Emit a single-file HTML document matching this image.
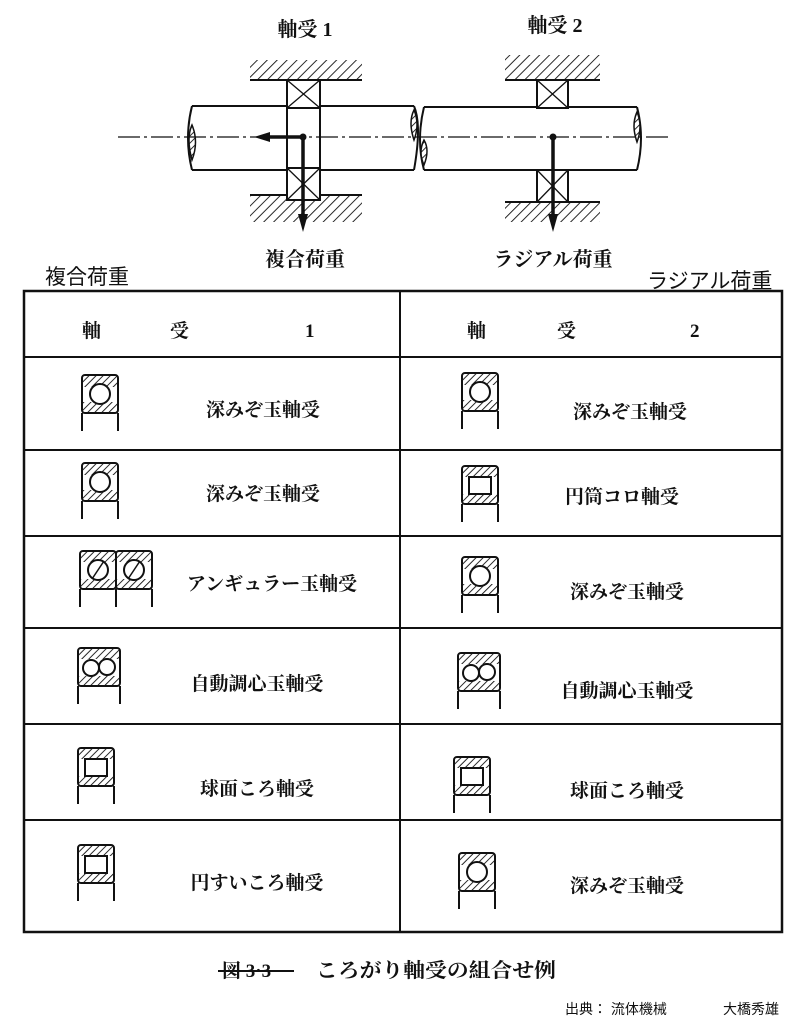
<!DOCTYPE html>
<html><head><meta charset="utf-8">
<style>
html,body{margin:0;padding:0;background:#fff;}
svg{display:block;}
text{font-family:"Liberation Serif","Noto Serif CJK SC","Noto Sans CJK JP",serif;fill:#111;}
.s{font-family:"Liberation Sans","Noto Sans CJK JP",sans-serif;font-weight:normal;}
</style></head><body>
<svg width="806" height="1024" viewBox="0 0 806 1024" xmlns="http://www.w3.org/2000/svg">
<defs>
<pattern id="h" width="5" height="5" patternUnits="userSpaceOnUse" patternTransform="rotate(45)">
<rect width="5" height="5" fill="#fff"/><line x1="0" y1="0" x2="0" y2="5" stroke="#111" stroke-width="1.8"/>
</pattern>
<pattern id="h2" width="7" height="7" patternUnits="userSpaceOnUse" patternTransform="rotate(45)">
<rect width="7" height="7" fill="#fff"/><line x1="0" y1="0" x2="0" y2="7" stroke="#111" stroke-width="1.8"/>
</pattern>
<g id="ball">
<rect x="1" y="1" width="34" height="11" fill="url(#h)"/>
<rect x="1" y="27" width="34" height="11" fill="url(#h)"/>
<rect x="0" y="0" width="36" height="38" rx="3" fill="none" stroke="#111" stroke-width="2"/>
<circle cx="18" cy="19" r="10" fill="#fff" stroke="#111" stroke-width="2"/>
<line x1="0" y1="38" x2="0" y2="56" stroke="#111" stroke-width="2"/>
<line x1="36" y1="38" x2="36" y2="56" stroke="#111" stroke-width="2"/>
</g>
<g id="roll">
<rect x="1" y="1" width="34" height="10" fill="url(#h)"/>
<rect x="1" y="28" width="34" height="10" fill="url(#h)"/>
<rect x="0" y="0" width="36" height="38" rx="3" fill="none" stroke="#111" stroke-width="2"/>
<rect x="7" y="11" width="22" height="17" fill="#fff" stroke="#111" stroke-width="2"/>
<line x1="0" y1="38" x2="0" y2="56" stroke="#111" stroke-width="2"/>
<line x1="36" y1="38" x2="36" y2="56" stroke="#111" stroke-width="2"/>
</g>
<g id="dbl">
<rect x="1" y="1" width="40" height="10" fill="url(#h)"/>
<rect x="1" y="28" width="40" height="10" fill="url(#h)"/>
<rect x="0" y="0" width="42" height="38" rx="3" fill="none" stroke="#111" stroke-width="2"/>
<circle cx="13" cy="20" r="8" fill="#fff" stroke="#111" stroke-width="2"/>
<circle cx="29" cy="19" r="8" fill="#fff" stroke="#111" stroke-width="2"/>
<line x1="0" y1="38" x2="0" y2="56" stroke="#111" stroke-width="2"/>
<line x1="42" y1="38" x2="42" y2="56" stroke="#111" stroke-width="2"/>
</g>
<g id="ang">
<rect x="1" y="1" width="34" height="10" fill="url(#h)"/>
<rect x="1" y="28" width="34" height="10" fill="url(#h)"/>
<rect x="0" y="0" width="36" height="38" rx="3" fill="none" stroke="#111" stroke-width="2"/>
<circle cx="18" cy="19" r="10" fill="#fff" stroke="#111" stroke-width="2"/>
<line x1="12" y1="28" x2="24" y2="10" stroke="#111" stroke-width="1.5"/>
<line x1="0" y1="38" x2="0" y2="56" stroke="#111" stroke-width="2"/>
<line x1="36" y1="38" x2="36" y2="56" stroke="#111" stroke-width="2"/>
</g>
</defs>

<g font-weight="bold">
<text x="305" y="36" font-size="20" text-anchor="middle">軸受 1</text>
<text x="555" y="32" font-size="20" text-anchor="middle">軸受 2</text>
</g>
<rect x="250" y="60" width="112" height="20" fill="url(#h2)"/>
<line x1="250" y1="80" x2="362" y2="80" stroke="#111" stroke-width="2"/>
<rect x="250" y="195" width="112" height="27" fill="url(#h2)"/>
<line x1="250" y1="195" x2="362" y2="195" stroke="#111" stroke-width="2"/>
<rect x="505" y="55" width="95" height="25" fill="url(#h2)"/>
<line x1="505" y1="80" x2="600" y2="80" stroke="#111" stroke-width="2"/>
<rect x="505" y="202" width="95" height="20" fill="url(#h2)"/>
<line x1="505" y1="202" x2="600" y2="202" stroke="#111" stroke-width="2"/>
<path d="M192,106 H414 M192,170 H414" stroke="#111" stroke-width="2" fill="none"/>
<path d="M192,106 Q184,138 192,170" stroke="#111" stroke-width="2" fill="none"/>
<path d="M192,125 Q186,138 192,160 Q199,142 192,125Z" fill="url(#h)" stroke="#111" stroke-width="1.5"/>
<path d="M414,106 Q422,125 414,170" stroke="#111" stroke-width="2" fill="none"/>
<path d="M414,110 Q408,122 414,140 Q420,124 414,110Z" fill="url(#h)" stroke="#111" stroke-width="1.5"/>
<path d="M424,107 H637 M424,170 H637" stroke="#111" stroke-width="2" fill="none"/>
<path d="M424,107 Q416,140 424,170" stroke="#111" stroke-width="2" fill="none"/>
<path d="M424,140 Q418,152 424,165 Q430,150 424,140Z" fill="url(#h)" stroke="#111" stroke-width="1.5"/>
<path d="M637,107 Q645,138 637,170" stroke="#111" stroke-width="2" fill="none"/>
<path d="M637,112 Q631,125 637,142 Q643,126 637,112Z" fill="url(#h)" stroke="#111" stroke-width="1.5"/>
<line x1="118" y1="137" x2="672" y2="137" stroke="#111" stroke-width="1.3" stroke-dasharray="22,4,3,4"/>
<rect x="287" y="80" width="33" height="120" fill="none" stroke="#111" stroke-width="2"/>
<rect x="287" y="80" width="33" height="28" fill="#fff" stroke="#111" stroke-width="2"/>
<path d="M287,80 L320,108 M320,80 L287,108" stroke="#111" stroke-width="1.3"/>
<rect x="287" y="168" width="33" height="32" fill="#fff" stroke="#111" stroke-width="2"/>
<path d="M287,168 L320,200 M320,168 L287,200" stroke="#111" stroke-width="1.3"/>
<rect x="537" y="80" width="31" height="28" fill="#fff" stroke="#111" stroke-width="2"/>
<path d="M537,80 L568,108 M568,80 L537,108" stroke="#111" stroke-width="1.3"/>
<rect x="537" y="170" width="31" height="32" fill="#fff" stroke="#111" stroke-width="2"/>
<path d="M537,170 L568,202 M568,170 L537,202" stroke="#111" stroke-width="1.3"/>
<circle cx="303" cy="137" r="3.5" fill="#111"/>
<line x1="303" y1="137" x2="268" y2="137" stroke="#111" stroke-width="3.5"/>
<polygon points="254,137 270,132 270,142" fill="#111"/>
<line x1="303" y1="137" x2="303" y2="216" stroke="#111" stroke-width="3.5"/>
<polygon points="303,232 298,214 308,214" fill="#111"/>
<circle cx="553" cy="137" r="3.5" fill="#111"/>
<line x1="553" y1="137" x2="553" y2="216" stroke="#111" stroke-width="3.5"/>
<polygon points="553,232 548,214 558,214" fill="#111"/>
<g font-weight="bold">
<text x="305" y="266" font-size="20" text-anchor="middle">複合荷重</text>
<text x="553" y="266" font-size="20" text-anchor="middle">ラジアル荷重</text>
</g>

<text class="s" x="45" y="284" font-size="21">複合荷重</text>
<text class="s" x="647" y="288" font-size="21">ラジアル荷重</text>

<rect x="24" y="291" width="758" height="641" fill="none" stroke="#111" stroke-width="2.5"/>
<line x1="400" y1="291" x2="400" y2="932" stroke="#111" stroke-width="2"/>
<g stroke="#111" stroke-width="2">
<line x1="24" y1="357" x2="782" y2="357"/>
<line x1="24" y1="450" x2="782" y2="450"/>
<line x1="24" y1="536" x2="782" y2="536"/>
<line x1="24" y1="628" x2="782" y2="628"/>
<line x1="24" y1="724" x2="782" y2="724"/>
<line x1="24" y1="820" x2="782" y2="820"/>
</g>
<g font-size="19" font-weight="bold">
<text x="82" y="337">軸</text><text x="170" y="337">受</text><text x="305" y="337">1</text>
<text x="467" y="337">軸</text><text x="557" y="337">受</text><text x="690" y="337">2</text>
</g>
<g font-size="19" font-weight="bold" text-anchor="middle">
<text x="263" y="416">深みぞ玉軸受</text>
<text x="263" y="500">深みぞ玉軸受</text>
<text x="272" y="590">アンギュラー玉軸受</text>
<text x="257" y="690">自動調心玉軸受</text>
<text x="257" y="795">球面ころ軸受</text>
<text x="257" y="889">円すいころ軸受</text>
<text x="630" y="418">深みぞ玉軸受</text>
<text x="622" y="503">円筒コロ軸受</text>
<text x="627" y="598">深みぞ玉軸受</text>
<text x="627" y="697">自動調心玉軸受</text>
<text x="627" y="797">球面ころ軸受</text>
<text x="627" y="892">深みぞ玉軸受</text>
</g>
<use href="#ball" x="82" y="375"/>
<use href="#ball" x="82" y="463"/>
<use href="#ang" x="80" y="551"/>
<use href="#ang" x="116" y="551"/>
<use href="#dbl" x="78" y="648"/>
<use href="#roll" x="78" y="748"/>
<use href="#roll" x="78" y="845"/>
<use href="#ball" x="462" y="373"/>
<use href="#roll" x="462" y="466"/>
<use href="#ball" x="462" y="557"/>
<use href="#dbl" x="458" y="653"/>
<use href="#roll" x="454" y="757"/>
<use href="#ball" x="459" y="853"/>

<text x="222" y="977" font-size="19" font-weight="bold">図 3·3</text>
<line x1="218" y1="971" x2="294" y2="971" stroke="#111" stroke-width="2"/>
<text x="316" y="977" font-size="20" font-weight="bold" textLength="240" lengthAdjust="spacingAndGlyphs">ころがり軸受の組合せ例</text>
<text class="s" x="565" y="1014" font-size="14">出典： 流体機械</text>
<text class="s" x="723" y="1014" font-size="14">大橋秀雄</text>
</svg>
</body></html>
